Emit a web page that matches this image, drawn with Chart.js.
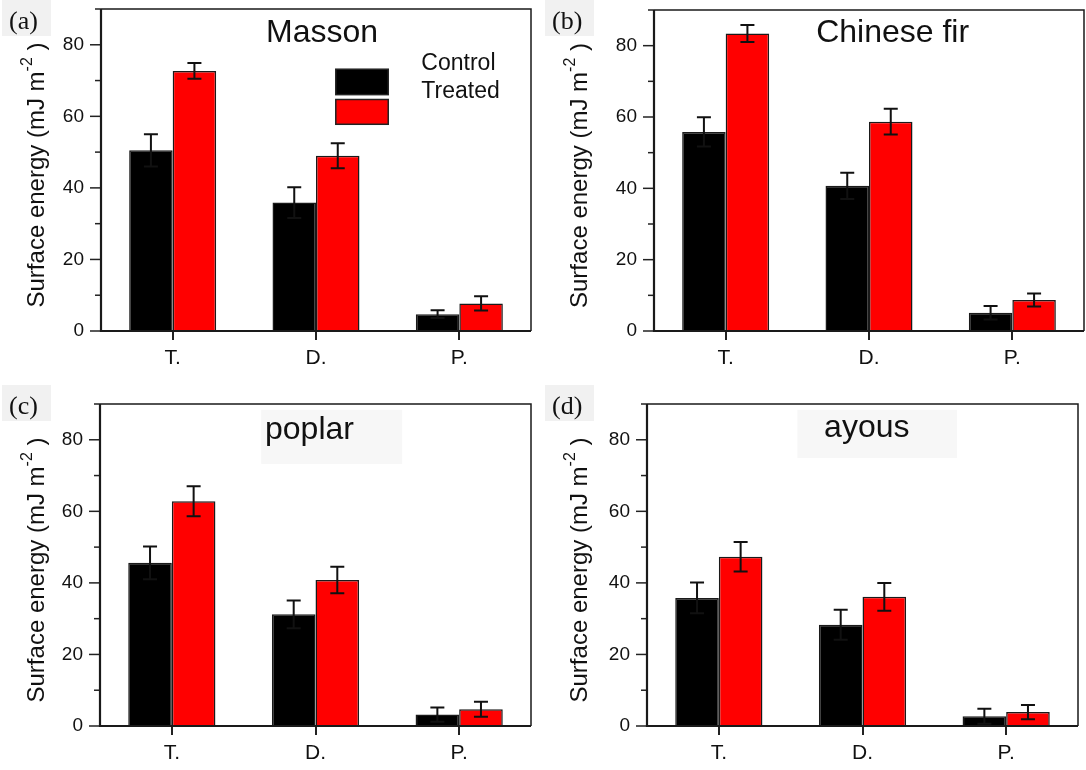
<!DOCTYPE html>
<html>
<head>
<meta charset="utf-8">
<script src="https://cdn.jsdelivr.net/npm/chart.js@4.4.1/dist/chart.umd.min.js"></script>
<style>
  body { margin: 0; background: #fff; width: 1086px; height: 770px; overflow: hidden; position: relative; }
  .panel { position: absolute; width: 543px; height: 385px; }
</style>
</head>
<body>
<div class="panel" style="left:0;top:0"><canvas id="ca" width="543" height="385"></canvas></div>
<div class="panel" style="left:543px;top:0"><canvas id="cb" width="543" height="385"></canvas></div>
<div class="panel" style="left:0;top:385px"><canvas id="cc" width="543" height="385"></canvas></div>
<div class="panel" style="left:543px;top:385px"><canvas id="cd" width="543" height="385"></canvas></div>
<script>
const categories = ["T.", "D.", "P."];
const seriesNames = ["Control", "Treated"];
const yTickLabels = [0, 20, 40, 60, 80];

// values (mJ m-2), with error bar half-widths
const massonControl = [50.5, 35.9, 4.7];
const massonControlErr = [4.5, 4.3, 1.1];
const massonTreated = [72.7, 49.0, 7.7];
const massonTreatedErr = [2.2, 3.5, 2.0];

const firControl = [55.8, 40.7, 5.1];
const firControlErr = [4.1, 3.7, 1.9];
const firTreated = [83.4, 58.7, 8.7];
const firTreatedErr = [2.4, 3.6, 1.8];

const poplarControl = [45.6, 31.2, 3.2];
const poplarControlErr = [4.6, 3.9, 2.0];
const poplarTreated = [62.8, 40.8, 4.7];
const poplarTreatedErr = [4.2, 3.7, 2.1];

const ayousControl = [35.8, 28.3, 2.7];
const ayousControlErr = [4.3, 4.2, 2.1];
const ayousTreated = [47.3, 36.1, 3.9];
const ayousTreatedErr = [4.1, 3.9, 2.0];

const SANS = "'Liberation Sans', Arial, sans-serif";
const SERIF = "'Liberation Serif', 'Times New Roman', serif";

// plot: [left, top, right, bottom] inside each 543x385 panel
const panels = [
  { canvas: "ca", tag: "(a)", title: "Masson", control: massonControl, controlErr: massonControlErr,
    treated: massonTreated, treatedErr: massonTreatedErr, plot: [101, 9, 531, 331],
    titleAt: [0.514, 0.076], titleBox: null, legend: true },
  { canvas: "cb", tag: "(b)", title: "Chinese fir", control: firControl, controlErr: firControlErr,
    treated: firTreated, treatedErr: firTreatedErr, plot: [111, 10, 541, 331],
    titleAt: [0.555, 0.073], titleBox: null, legend: false },
  { canvas: "cc", tag: "(c)", title: "poplar", control: poplarControl, controlErr: poplarControlErr,
    treated: poplarTreated, treatedErr: poplarTreatedErr, plot: [100, 19, 531, 341],
    titleAt: [0.486, 0.08], titleBox: [0.374, 0.018, 0.701, 0.186], legend: false },
  { canvas: "cd", tag: "(d)", title: "ayous", control: ayousControl, controlErr: ayousControlErr,
    treated: ayousTreated, treatedErr: ayousTreatedErr, plot: [104, 19, 535, 341],
    titleAt: [0.51, 0.075], titleBox: [0.349, 0.018, 0.719, 0.168], legend: false }
];

const decor = {
  id: "decor",
  beforeDraw(chart, args, o) {
    const ctx = chart.ctx;
    const a = chart.chartArea;
    ctx.save();
    ctx.fillStyle = "#fff";
    ctx.fillRect(0, 0, chart.width, chart.height);
    // light grey patch behind the panel tag
    ctx.fillStyle = "#f1f1f1";
    ctx.fillRect(2, 0, 49, 36);
    if (o.titleBox) {
      const b = o.titleBox;
      const w = a.right - a.left, h = a.bottom - a.top;
      ctx.fillStyle = "#f7f7f7";
      ctx.fillRect(a.left + b[0] * w, a.top + b[1] * h, (b[2] - b[0]) * w, (b[3] - b[1]) * h);
    }
    ctx.restore();
  },
  afterDatasetsDraw(chart) {
    const ctx = chart.ctx;
    const y = chart.scales.y;
    const a = chart.chartArea;
    ctx.save();
    ctx.strokeStyle = "#111";
    ctx.lineWidth = 2;
    chart.data.datasets.forEach((ds, i) => {
      chart.getDatasetMeta(i).data.forEach((bar, j) => {
        const top = y.getPixelForValue(ds.data[j] + ds.errors[j]);
        const bot = y.getPixelForValue(ds.data[j] - ds.errors[j]);
        ctx.beginPath();
        ctx.moveTo(bar.x, top); ctx.lineTo(bar.x, bot);
        ctx.moveTo(bar.x - 7, top); ctx.lineTo(bar.x + 7, top);
        ctx.moveTo(bar.x - 7, bot); ctx.lineTo(bar.x + 7, bot);
        ctx.stroke();
      });
    });
    // y ticks: long at labelled values, short in between
    ctx.lineWidth = 1.5;
    ctx.strokeStyle = "#222";
    y.ticks.forEach((t) => {
      const py = y.getPixelForValue(t.value);
      const len = yTickLabels.includes(t.value) ? 11 : 6;
      ctx.beginPath();
      ctx.moveTo(a.left - len, py); ctx.lineTo(a.left, py);
      ctx.stroke();
    });
    // frame: thin top/right, heavier axes
    ctx.strokeStyle = "#1a1a1a";
    ctx.beginPath();
    ctx.moveTo(a.left, a.top); ctx.lineTo(a.right, a.top); ctx.lineTo(a.right, a.bottom);
    ctx.stroke();
    ctx.lineWidth = 2.2;
    ctx.beginPath();
    ctx.moveTo(a.left, a.top); ctx.lineTo(a.left, a.bottom); ctx.lineTo(a.right, a.bottom);
    ctx.stroke();
    ctx.restore();
  },
  afterDraw(chart, args, o) {
    const ctx = chart.ctx;
    const a = chart.chartArea;
    const w = a.right - a.left, h = a.bottom - a.top;
    ctx.save();
    ctx.fillStyle = "#111";
    // panel tag
    ctx.font = "26px " + SERIF;
    ctx.textAlign = "left";
    ctx.textBaseline = "alphabetic";
    ctx.fillText(o.tag, 9, 29);
    // title
    ctx.font = "32px " + SANS;
    ctx.textAlign = "center";
    ctx.textBaseline = "middle";
    ctx.fillText(o.title, a.left + o.titleAt[0] * w, a.top + o.titleAt[1] * h);
    // y axis title with superscript
    ctx.translate(37, (a.top + a.bottom) / 2 + 5);
    ctx.rotate(-Math.PI / 2);
    ctx.textAlign = "left";
    ctx.textBaseline = "middle";
    const p1 = "Surface energy (mJ m", p2 = "-2", p3 = " )";
    ctx.font = "24px " + SANS;
    const w1 = ctx.measureText(p1).width, w3 = ctx.measureText(p3).width;
    ctx.font = "16px " + SANS;
    const w2 = ctx.measureText(p2).width;
    const x = -(w1 + w2 + w3) / 2;
    ctx.font = "24px " + SANS;
    ctx.fillText(p1, x, 0);
    ctx.font = "16px " + SANS;
    ctx.fillText(p2, x + w1, -9);
    ctx.font = "24px " + SANS;
    ctx.fillText(p3, x + w1 + w2, 0);
    ctx.restore();
    // legend (panel a only)
    if (o.legend) {
      ctx.save();
      const colors = ["#000000", "#ff0000"];
      const boxes = [[0.187, 0.266], [0.281, 0.358]];
      const texts = [0.169, 0.258];
      ctx.lineWidth = 1.5;
      ctx.strokeStyle = "#222";
      seriesNames.forEach((name, i) => {
        const bx = a.left + 0.546 * w, by = a.top + boxes[i][0] * h;
        const bw = 0.122 * w, bh = (boxes[i][1] - boxes[i][0]) * h;
        ctx.fillStyle = colors[i];
        ctx.fillRect(bx, by, bw, bh);
        ctx.strokeRect(bx, by, bw, bh);
        ctx.fillStyle = "#111";
        ctx.font = "23px " + SANS;
        ctx.textAlign = "left";
        ctx.textBaseline = "middle";
        ctx.fillText(name, a.left + 0.745 * w, a.top + texts[i] * h);
      });
      ctx.restore();
    }
  }
};

panels.forEach((p) => {
  new Chart(document.getElementById(p.canvas), {
    type: "bar",
    data: {
      labels: categories,
      datasets: [
        { label: seriesNames[0], data: p.control, errors: p.controlErr,
          backgroundColor: "#000000", borderColor: "#1a1a1a", borderWidth: 1.5,
          categoryPercentage: 0.607, barPercentage: 1 },
        { label: seriesNames[1], data: p.treated, errors: p.treatedErr,
          backgroundColor: "#ff0000", borderColor: "#1a1a1a", borderWidth: 1.5,
          categoryPercentage: 0.607, barPercentage: 1 }
      ]
    },
    options: {
      responsive: false,
      animation: false,
      devicePixelRatio: 1,
      layout: { padding: { left: 0, top: p.plot[1], right: 543 - p.plot[2], bottom: 0 } },
      plugins: {
        legend: { display: false },
        tooltip: { enabled: false },
        decor: p
      },
      scales: {
        x: {
          offset: true,
          grid: { offset: false, drawOnChartArea: false, drawTicks: true, tickLength: 9, color: "#222", lineWidth: 2 },
          border: { display: false },
          ticks: { color: "#111", font: { family: SANS, size: 21 }, padding: 6 },
          afterFit: (s) => { s.height = 385 - p.plot[3]; s.paddingLeft = 0; s.paddingRight = 0; }
        },
        y: {
          min: 0,
          max: 90,
          grid: { drawOnChartArea: false, drawTicks: false },
          border: { display: false },
          ticks: {
            stepSize: 10,
            color: "#111",
            font: { family: SANS, size: 19 },
            padding: 17,
            callback: (v) => (yTickLabels.includes(v) ? String(v) : "")
          },
          afterFit: (s) => { s.width = p.plot[0]; s.paddingTop = 0; s.paddingBottom = 0; }
        }
      }
    },
    plugins: [decor]
  });
});
</script>
</body>
</html>
